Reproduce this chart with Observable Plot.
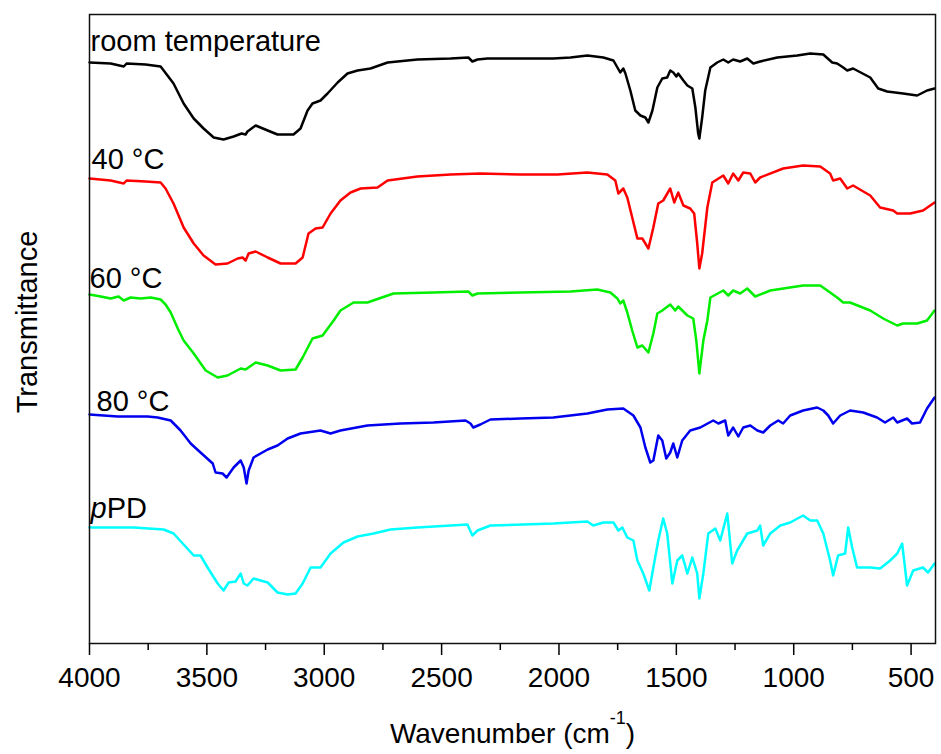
<!DOCTYPE html>
<html><head><meta charset="utf-8">
<script src="https://cdn.jsdelivr.net/npm/d3@7"></script>
<script src="https://cdn.jsdelivr.net/npm/@observablehq/plot@0.6"></script>
<style>body{margin:0;background:#fff}</style>
</head><body><div id="chart"></div>
<script>
// FTIR spectra: [wavenumber (cm-1), transmittance (arbitrary units, stacked)]
const roomTemp = [[4000,581],[3910,580],[3854,577],[3842,580],[3761,579],[3697,577],[3684,573],[3642,560],[3599,540],[3556,525],[3514,515],[3471,506],[3429,504],[3386,507],[3352,510],[3335,509],[3327,512],[3292,518],[3241,513],[3199,509],[3131,509],[3101,515],[3071,533],[3050,540],[3016,543],[2986,550],[2943,561],[2901,570],[2858,573],[2803,575],[2730,581],[2603,584],[2462,585],[2386,586],[2369,582],[2347,584],[2305,585],[2164,585],[2024,585],[1951,586],[1879,588],[1811,586],[1768,583],[1751,576],[1739,571],[1726,575],[1717,570],[1696,553],[1675,533],[1653,528],[1632,526],[1619,521],[1602,533],[1581,556],[1560,565],[1539,566],[1526,573],[1513,571],[1500,567],[1492,570],[1470,563],[1453,558],[1432,555],[1419,536],[1407,510],[1402,505],[1390,526],[1377,553],[1355,576],[1326,581],[1300,584],[1279,581],[1258,584],[1228,582],[1198,585],[1172,580],[1143,582],[1070,586],[985,588],[930,590],[874,589],[836,581],[815,580],[789,576],[772,573],[747,575],[674,566],[640,555],[602,552],[568,551],[534,550],[474,548],[432,553],[400,555]];
const t40 = [[4000,465],[3910,463],[3854,460],[3842,463],[3761,462],[3697,461],[3676,455],[3642,440],[3599,416],[3556,400],[3514,388],[3463,379],[3412,380],[3369,385],[3348,386],[3335,383],[3322,390],[3292,392],[3241,386],[3186,380],[3122,380],[3092,386],[3067,410],[3037,415],[3007,416],[2973,430],[2931,443],[2888,451],[2845,455],[2773,456],[2730,463],[2603,467],[2462,469],[2335,470],[2164,469],[2007,469],[1879,471],[1794,469],[1760,463],[1747,450],[1726,455],[1709,446],[1688,426],[1666,405],[1645,405],[1619,395],[1598,416],[1577,440],[1556,443],[1526,455],[1509,441],[1492,451],[1470,438],[1441,435],[1424,430],[1411,400],[1402,375],[1390,390],[1368,436],[1347,461],[1300,468],[1279,460],[1258,470],[1236,463],[1215,471],[1185,470],[1164,461],[1143,466],[1045,475],[960,478],[887,477],[845,470],[832,463],[802,465],[772,455],[747,458],[674,448],[632,436],[576,433],[559,430],[504,430],[449,433],[400,441]];
const t60 = [[4000,349],[3952,347],[3910,345],[3876,347],[3854,343],[3825,346],[3782,345],[3739,346],[3697,344],[3676,339],[3654,331],[3624,315],[3599,303],[3556,290],[3505,273],[3454,266],[3412,268],[3356,275],[3335,274],[3292,281],[3241,278],[3186,273],[3122,274],[3092,286],[3050,305],[3007,308],[2960,323],[2931,333],[2875,341],[2816,341],[2705,350],[2535,351],[2386,352],[2369,348],[2347,350],[2164,351],[1951,352],[1837,354],[1781,351],[1751,345],[1739,340],[1726,343],[1709,331],[1688,313],[1666,296],[1645,298],[1619,291],[1598,310],[1581,330],[1560,333],[1526,339],[1505,333],[1492,337],[1453,328],[1428,325],[1415,303],[1402,270],[1385,303],[1368,323],[1355,346],[1300,353],[1279,348],[1258,353],[1228,350],[1198,355],[1164,347],[1100,353],[960,358],[887,358],[845,351],[815,346],[789,341],[760,341],[674,333],[619,325],[559,318],[534,320],[474,320],[432,323],[400,333]];
const t80 = [[4000,229],[3880,227],[3752,227],[3710,226],[3654,223],[3612,213],[3569,200],[3527,191],[3475,180],[3463,171],[3433,170],[3416,166],[3386,176],[3356,183],[3343,176],[3331,160],[3322,173],[3301,186],[3241,194],[3199,198],[3156,205],[3101,210],[3016,213],[2973,210],[2931,213],[2816,218],[2675,220],[2535,221],[2398,223],[2377,220],[2365,216],[2335,219],[2292,224],[2164,225],[2024,226],[1879,230],[1794,234],[1726,235],[1683,228],[1653,216],[1632,196],[1611,181],[1598,183],[1577,208],[1560,203],[1543,185],[1526,191],[1513,200],[1496,186],[1475,203],[1441,213],[1398,216],[1343,223],[1321,220],[1292,223],[1279,208],[1258,216],[1236,207],[1215,216],[1185,218],[1155,213],[1130,211],[1100,218],[1066,223],[1045,220],[1015,228],[960,233],[900,236],[874,233],[853,228],[832,220],[802,228],[760,233],[704,231],[645,226],[611,221],[576,226],[559,221],[517,225],[496,220],[462,221],[432,235],[400,246]];
const pPD = [[4000,116],[3812,116],[3684,114],[3642,110],[3599,99],[3556,88],[3527,88],[3497,76],[3454,60],[3429,53],[3407,61],[3378,62],[3356,70],[3343,60],[3327,58],[3301,65],[3241,61],[3199,51],[3156,49],[3122,50],[3092,60],[3058,76],[3016,76],[2973,90],[2918,101],[2858,107],[2790,110],[2718,114],[2603,116],[2390,119],[2369,108],[2347,113],[2292,118],[2024,120],[1879,122],[1854,118],[1811,121],[1768,121],[1747,113],[1730,116],[1709,106],[1683,103],[1666,83],[1641,70],[1615,53],[1598,76],[1577,103],[1556,125],[1539,110],[1517,60],[1496,83],[1475,88],[1453,70],[1432,86],[1411,70],[1402,45],[1385,70],[1364,110],[1334,115],[1313,103],[1283,130],[1262,80],[1241,93],[1198,110],[1155,113],[1143,118],[1130,98],[1100,110],[1057,118],[1015,121],[960,128],[930,123],[900,123],[874,110],[845,83],[832,68],[811,88],[781,90],[768,116],[751,96],[730,76],[674,76],[632,75],[589,83],[559,90],[538,100],[517,58],[491,73],[449,76],[428,71],[400,80]];

const seriesNames = ["room temperature", "40 °C", "60 °C", "80 °C", "pPD"];
const seriesData = [roomTemp, t40, t60, t80, pPD];
const majorTicks = [4000, 3500, 3000, 2500, 2000, 1500, 1000, 500];
const minorTicks = [3750, 3250, 2750, 2250, 1750, 1250, 750];
const xTitle = "Wavenumber (cm-1)";
const yTitle = "Transmittance";

const rows = seriesData.flatMap((s, i) => s.map(([wn, t]) => ({name: seriesNames[i], wn, t})));

// label anchors: (series name, baseline value in the transmittance units, pixel nudge)
const labels = [
  {name: seriesNames[0], y: 593, dx: 1},
  {name: seriesNames[1], y: 475, dx: 2},
  {name: seriesNames[2], y: 356, dx: 0},
  {name: seriesNames[3], y: 233, dx: 7},
  {name: seriesNames[4], y: 126, dx: 1}
];

const svg = Plot.plot({
  width: 941,
  height: 754,
  marginTop: 14,
  marginBottom: 111,
  marginLeft: 89,
  marginRight: 6,
  style: {fontFamily: "'Liberation Sans', Arial, sans-serif", fontSize: "28px", background: "white", color: "black"},
  x: {domain: [4000, 396], label: null},
  y: {domain: [0, 629], axis: null},
  color: {domain: seriesNames, range: ["#000000", "#ff0000", "#00ee00", "#0000ee", "#00ffff"]},
  marks: [
    Plot.line(rows, {x: "wn", y: "t", z: "name", stroke: "name", strokeWidth: 2.5, strokeLinejoin: "round"}),
    ...labels.map((l) => Plot.text([l], {x: () => 4000, y: "y", text: "name", dx: l.dx, textAnchor: "start", lineAnchor: "bottom", fontSize: 29, fill: "black"})),
    Plot.frame({stroke: "#111", strokeWidth: 1.5}),
    Plot.axisX({ticks: majorTicks, tickSize: 12, tickPadding: 12, fontSize: 28, strokeWidth: 1.5, label: null, tickFormat: (d) => String(d)}),
    Plot.axisX({ticks: minorTicks, tickSize: 7, strokeWidth: 1.5, label: null, tickFormat: () => ""}),
    Plot.text([xTitle], {frameAnchor: "bottom", text: (d) => d, textAnchor: "middle", dy: 99, lineAnchor: "bottom", fontSize: 28, fill: "black"}),
    Plot.text([yTitle], {frameAnchor: "left", text: (d) => d, textAnchor: "middle", rotate: -90, dx: -62, dy: -7, lineAnchor: "middle", fontSize: 29, fill: "black"})
  ]
});

// typographic details: italic p in pPD, superscript -1 in cm-1
d3.select(svg).selectAll("text").each(function () {
  const el = d3.select(this);
  const t = this.textContent;
  if (t === "pPD") {
    el.text(null);
    el.append("tspan").attr("font-style", "italic").text("p");
    el.append("tspan").text("PD");
  } else if (t === xTitle) {
    el.text(null);
    el.append("tspan").text("Wavenumber (cm");
    el.append("tspan").attr("dy", -19).attr("font-size", 18).text("-1");
    el.append("tspan").attr("dy", 19).text(")");
  }
});

document.getElementById("chart").appendChild(svg);
</script></body></html>
